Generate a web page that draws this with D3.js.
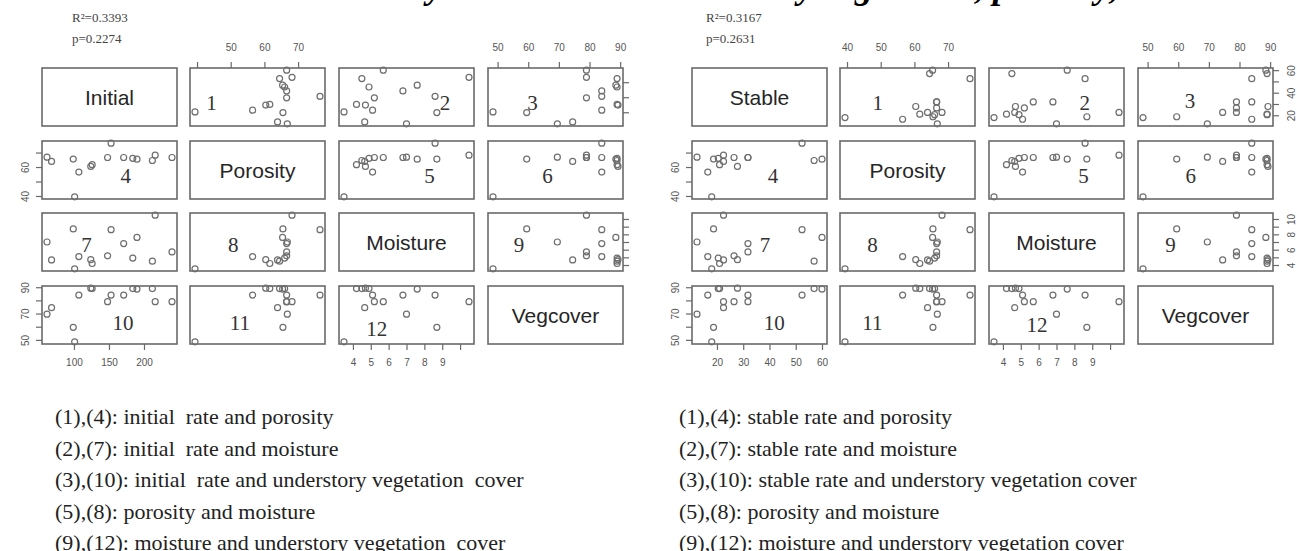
<!DOCTYPE html>
<html>
<head>
<meta charset="utf-8">
<script src="https://cdn.jsdelivr.net/npm/d3@7"></script>
<style>
  body { margin: 0; background: #fff; }
  svg { display: block; }
</style>
</head>
<body>
<svg id="chart" width="1297" height="551"></svg>
<script>
// Two scatterplot matrices (R pairs style): infiltration rate vs porosity, moisture, vegcover

// ---- data: one value per sample plot (15 plots) ----
const porosity    = [39.4, 76.5, 68.2, 56.5, 65.5, 66.8, 63.9, 66.6, 66.6, 66.6, 61.6, 66.0, 64.5, 60.4, 65.4];
const moisture    = [3.5, 8.6, 10.5, 5.1, 8.7, 7.0, 4.66, 6.8, 5.2, 5.7, 4.2, 4.9, 4.5, 4.7, 7.6];
const vegcover    = [48.5, 84, 79, 84, 59.5, 69.5, 74.5, 84, 79, 79, 89, 89, 89, 89.3, 88.6];
const initialRate = [101, 153, 216, 107, 99, 61.5, 68, 171, 148, 240, 126, 184, 212, 124, 190];
const stableRate  = [18, 52.4, 22.5, 16.5, 18.7, 12.4, 22.5, 31.8, 26.5, 31.8, 21, 20.5, 57, 27.8, 60];

// tick values per variable
const initialTicks  = [100, 150, 200];
const stableTicks   = [20, 30, 40, 50, 60];
const porosityTicks = [40, 50, 60, 70];
const moistureTicks = [4, 5, 6, 7, 8, 9, 10];
const vegcoverTicks = [50, 60, 70, 80, 90];

const notesInitial = [
  '(1),(4): initial  rate and porosity',
  '(2),(7): initial  rate and moisture',
  '(3),(10): initial  rate and understory vegetation  cover',
  '(5),(8): porosity and moisture',
  '(9),(12): moisture and understory vegetation  cover'
];
const notesStable = [
  '(1),(4): stable rate and porosity',
  '(2),(7): stable rate and moisture',
  '(3),(10): stable rate and understory vegetation cover',
  '(5),(8): porosity and moisture',
  '(9),(12): moisture and understory vegetation cover'
];

// ---- layout ----
const svg = d3.select('#chart');
const colOffsets = [0, 148, 297, 446];
const rowTops = [68, 141, 213, 286];
const panelW = 135, panelH = 58;
const tickLen = 6;
const boxColor = '#6a6a6a';
const pointColor = '#6e6e6e';

// panel number -> [row, col]
const panelCells = {
  1: [0, 1], 2: [0, 2], 3: [0, 3],
  4: [1, 0], 5: [1, 2], 6: [1, 3],
  7: [2, 0], 8: [2, 1], 9: [2, 3],
  10: [3, 0], 11: [3, 1], 12: [3, 2]
};

const matrices = [
  {
    rateName: 'Initial', rate: initialRate, rateTicks: initialTicks,
    left: 42, stat: ['R\u00b2=0.3393', 'p=0.2274'], statX: 72,
    topPorosityLabels: [50, 60, 70], rightLabels: false,
    notes: notesInitial, notesX: 55,
    labelPos: { 1: [0.16, 0.59], 2: [0.785, 0.59], 3: [0.33, 0.59], 4: [0.62, 0.59], 5: [0.67, 0.59], 6: [0.44, 0.59],
      7: [0.33, 0.55], 8: [0.32, 0.55], 9: [0.23, 0.55], 10: [0.6, 0.64], 11: [0.37, 0.64], 12: [0.28, 0.74] }
  },
  {
    rateName: 'Stable', rate: stableRate, rateTicks: stableTicks,
    left: 692, stat: ['R\u00b2=0.3167', 'p=0.2631'], statX: 706,
    topPorosityLabels: [40, 50, 60, 70], rightLabels: true,
    notes: notesStable, notesX: 679,
    labelPos: { 1: [0.28, 0.59], 2: [0.71, 0.59], 3: [0.385, 0.57], 4: [0.6, 0.59], 5: [0.7, 0.59], 6: [0.39, 0.59],
      7: [0.54, 0.55], 8: [0.24, 0.55], 9: [0.24, 0.55], 10: [0.61, 0.64], 11: [0.24, 0.64], 12: [0.355, 0.67] }
  }
];

function padded(values) {
  const [lo, hi] = d3.extent(values);
  const pad = (hi - lo) * 0.04;
  return [lo - pad, hi + pad];
}

function styleAxis(g) {
  g.select('.domain').remove();
  g.selectAll('.tick line').attr('stroke', boxColor).attr('stroke-width', 1.2);
  g.selectAll('.tick text')
    .attr('fill', '#555')
    .style('font-family', '"Liberation Sans", Arial, sans-serif')
    .style('font-size', '10px');
}

function drawMatrix(m) {
  const vars = [m.rate, porosity, moisture, vegcover];
  const names = [m.rateName, 'Porosity', 'Moisture', 'Vegcover'];
  const ticks = [m.rateTicks, porosityTicks, moistureTicks, vegcoverTicks];

  const xs = vars.map((v, j) => d3.scaleLinear()
    .domain(padded(v))
    .range([m.left + colOffsets[j], m.left + colOffsets[j] + panelW]));
  const ys = vars.map((v, i) => d3.scaleLinear()
    .domain(padded(v))
    .range([rowTops[i] + panelH, rowTops[i]]));

  const g = svg.append('g');

  // boxes
  for (let i = 0; i < 4; i++) {
    for (let j = 0; j < 4; j++) {
      g.append('rect')
        .attr('x', xs[j].range()[0])
        .attr('y', rowTops[i])
        .attr('width', panelW)
        .attr('height', panelH)
        .attr('fill', 'none')
        .attr('stroke', boxColor)
        .attr('stroke-width', 1.6);
    }
  }

  // diagonal names
  names.forEach((name, k) => {
    g.append('text')
      .attr('x', xs[k].range()[0] + panelW / 2)
      .attr('y', rowTops[k] + panelH / 2)
      .attr('dy', '0.36em')
      .attr('text-anchor', 'middle')
      .style('font-family', '"Liberation Sans", Arial, sans-serif')
      .style('font-size', '21px')
      .style('fill', '#262626')
      .text(name);
  });

  // scatter panels
  Object.keys(panelCells).forEach(num => {
    const [i, j] = panelCells[num];
    const pts = vars[j].map((xv, k) => [xv, vars[i][k]]);
    g.append('g').selectAll('circle')
      .data(pts)
      .enter()
      .append('circle')
      .attr('cx', d => xs[j](d[0]))
      .attr('cy', d => ys[i](d[1]))
      .attr('r', 3)
      .attr('fill', 'none')
      .attr('stroke', pointColor)
      .attr('stroke-width', 1.2);

    const [fx, fy] = m.labelPos[num];
    g.append('text')
      .attr('x', xs[j].range()[0] + fx * panelW)
      .attr('y', rowTops[i] + fy * panelH)
      .attr('dy', '0.35em')
      .attr('text-anchor', 'middle')
      .style('font-family', '"Liberation Serif", "Times New Roman", serif')
      .style('font-size', '21px')
      .style('fill', '#333')
      .text(num);
  });

  // top axes: col 2 (porosity) and col 4 (vegcover)
  g.append('g')
    .attr('transform', `translate(0,${rowTops[0]})`)
    .call(d3.axisTop(xs[1]).tickValues(porosityTicks).tickSize(tickLen).tickPadding(11)
      .tickFormat(d => m.topPorosityLabels.includes(d) ? d : ''))
    .call(styleAxis);
  g.append('g')
    .attr('transform', `translate(0,${rowTops[0]})`)
    .call(d3.axisTop(xs[3]).tickValues(vegcoverTicks).tickSize(tickLen).tickPadding(11))
    .call(styleAxis);

  // bottom axes: col 1 (rate) and col 3 (moisture)
  const bottomY = rowTops[3] + panelH;
  g.append('g')
    .attr('transform', `translate(0,${bottomY})`)
    .call(d3.axisBottom(xs[0]).tickValues(m.rateTicks).tickSize(tickLen).tickPadding(9))
    .call(styleAxis);
  g.append('g')
    .attr('transform', `translate(0,${bottomY})`)
    .call(d3.axisBottom(xs[2]).tickValues(moistureTicks).tickSize(tickLen).tickPadding(9)
      .tickFormat(d => d < 10 ? d : ''))
    .call(styleAxis);

  // left axes: row 2 (porosity) and row 4 (vegcover), labels parallel to axis
  const leftX = m.left;
  [[1, [40, 60]], [3, [50, 70, 90]]].forEach(([row, labels]) => {
    g.append('g')
      .attr('transform', `translate(${leftX},0)`)
      .call(d3.axisLeft(ys[row]).tickValues(ticks[row]).tickSize(tickLen)
        .tickFormat(d => labels.includes(d) ? d : ''))
      .call(styleAxis)
      .selectAll('.tick text')
      .attr('transform', 'rotate(-90)')
      .attr('x', 0)
      .attr('y', -13)
      .attr('dy', 0)
      .attr('text-anchor', 'middle');
  });

  // right axes: row 1 (rate) and row 3 (moisture)
  const rightX = m.left + colOffsets[3] + panelW;
  [[0, [20, 40, 60]], [2, [4, 6, 8, 10]]].forEach(([row, labels]) => {
    g.append('g')
      .attr('transform', `translate(${rightX},0)`)
      .call(d3.axisRight(ys[row]).tickValues(ticks[row]).tickSize(tickLen)
        .tickFormat(d => (m.rightLabels && labels.includes(d)) ? d : ''))
      .call(styleAxis)
      .selectAll('.tick text')
      .attr('transform', 'rotate(-90)')
      .attr('x', 0)
      .attr('y', 22)
      .attr('dy', 0)
      .attr('text-anchor', 'middle');
  });

  // R squared and p value
  m.stat.forEach((s, k) => {
    svg.append('text')
      .attr('x', m.statX)
      .attr('y', 22 + k * 21)
      .style('font-family', '"Liberation Serif", "Times New Roman", serif')
      .style('font-size', '13px')
      .style('fill', '#444')
      .text(s);
  });

  // notes under the matrix
  svg.append('g').selectAll('text')
    .data(m.notes)
    .enter()
    .append('text')
    .attr('x', m.notesX)
    .attr('y', (d, k) => 424 + k * 31.5)
    .style('font-family', '"Liberation Serif", "Times New Roman", serif')
    .style('font-size', '22px')
    .style('fill', '#222')
    .style('white-space', 'pre')
    .text(d => d);
}

matrices.forEach(drawMatrix);

// Title, cropped at the top edge: only the descenders remain visible
const titleFont = '"Liberation Serif", "Times New Roman", serif';
const titleY = -2.5;
const titleSize = '36px';
const t1 = svg.append('text')
  .attr('y', titleY)
  .attr('text-anchor', 'end')
  .style('font-family', titleFont)
  .style('font-size', titleSize)
  .style('font-weight', 'bold')
  .style('font-style', 'italic')
  .text('analysis');
// put the "y" of "analysis" near x=435
const n1 = t1.node();
const iy1 = 'analysis'.indexOf('y');
const total1 = n1.getComputedTextLength();
const yPos1 = n1.getSubStringLength(0, iy1) + n1.getSubStringLength(iy1, 1) / 2;
t1.attr('x', 435 + (total1 - yPos1));

const title2 = 'and understory vegetation, porosity, and moisture';
const t2 = svg.append('text')
  .attr('x', 0)
  .attr('y', titleY)
  .style('font-family', titleFont)
  .style('font-size', titleSize)
  .style('font-weight', 'bold')
  .style('font-style', 'italic')
  .text(title2);
const n2 = t2.node();
const iy2 = title2.indexOf('y');
const yPos2 = n2.getSubStringLength(0, iy2) + n2.getSubStringLength(iy2, 1) / 2;
t2.attr('x', 806 - yPos2);
</script>
</body>
</html>
